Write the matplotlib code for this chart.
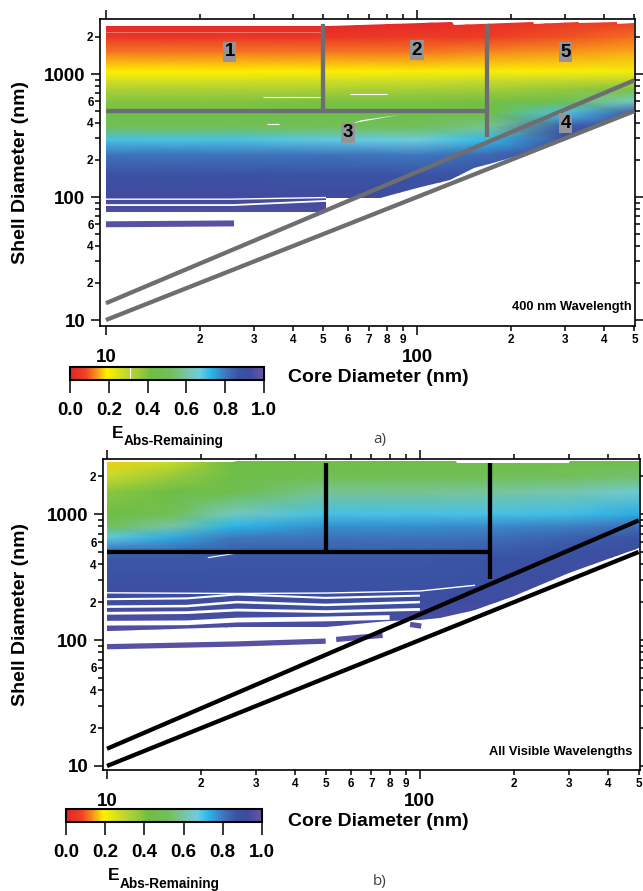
import numpy as np
import matplotlib
matplotlib.use("Agg")
import matplotlib.pyplot as plt
from matplotlib.colors import LinearSegmentedColormap, Normalize
from matplotlib.patches import Polygon
from matplotlib.cm import ScalarMappable

plt.rcParams['font.family'] = ['Liberation Sans', 'DejaVu Sans']
plt.rcParams['font.weight'] = 'bold'

# colour scale (E_Abs-Remaining, 0..1)
cmap_pos = [0.0, 0.08, 0.13, 0.19, 0.27, 0.35, 0.42, 0.52, 0.60, 0.67, 0.73, 0.80, 0.87, 0.93, 1.0]
cmap_hex = ['#E52228', '#EE4424', '#F68B1F', '#FFF200', '#CDDC29', '#A2CC3A', '#6DBE45', '#72BF5A',
            '#78C4A6', '#6CCDE1', '#29B5E8', '#3F78BE', '#3A53A4', '#3F4B9F', '#6A55A4']
cbar_ticks = [0.0, 0.2, 0.4, 0.6, 0.8, 1.0]
cbar_labels = ['0.0', '0.2', '0.4', '0.6', '0.8', '1.0']

# axis ticks
x_major = [10, 100]
x_major_labels = ['10', '100']
x_minor = [20, 30, 40, 50, 60, 70, 80, 90, 200, 300, 400, 500]
x_minor_labels = ['2', '3', '4', '5', '6', '7', '8', '9', '2', '3', '4', '5']
y_major = [10, 100, 1000]
y_major_labels = ['10', '100', '1000']
y_minor = [20, 30, 40, 50, 60, 70, 80, 90, 200, 300, 400, 500, 600, 700, 800, 900, 2000]
y_minor_labels = ['2', '', '4', '', '6', '', '', '', '2', '', '4', '', '6', '', '', '', '2']

# ---- panel a: 400 nm wavelength ----
core_a = [10, 25, 50, 100, 170, 300, 500]
shell_a = [50, 100, 150, 220, 290, 370, 480, 600, 750, 900, 1050, 1500, 2000, 2800]
E_a = [
    [0.98, 0.98, 0.98, 0.98, 1.00, 1.00, 1.00],
    [0.93, 0.93, 0.93, 0.92, 0.95, 1.00, 1.00],
    [0.88, 0.88, 0.87, 0.87, 0.88, 0.98, 1.00],
    [0.81, 0.81, 0.81, 0.80, 0.83, 0.94, 1.00],
    [0.70, 0.70, 0.68, 0.67, 0.72, 0.92, 0.98],
    [0.52, 0.52, 0.52, 0.52, 0.58, 0.86, 0.95],
    [0.44, 0.44, 0.44, 0.44, 0.45, 0.70, 0.86],
    [0.39, 0.39, 0.40, 0.40, 0.41, 0.48, 0.64],
    [0.33, 0.33, 0.33, 0.34, 0.35, 0.37, 0.40],
    [0.25, 0.25, 0.26, 0.26, 0.27, 0.28, 0.29],
    [0.19, 0.19, 0.19, 0.20, 0.20, 0.20, 0.21],
    [0.12, 0.12, 0.12, 0.12, 0.13, 0.14, 0.15],
    [0.05, 0.05, 0.05, 0.06, 0.07, 0.09, 0.11],
    [0.00, 0.00, 0.00, 0.01, 0.02, 0.04, 0.05],
]
# outline of the computed region
region_a_core = [10, 52, 130, 131, 236, 237, 330, 331, 440, 441, 500,
                 500, 428, 428, 343, 343, 281, 281, 225, 225, 176, 176, 152, 152, 128, 128, 100, 100, 76, 76, 51, 51, 10]
region_a_shell = [2450, 2440, 2640, 2480, 2640, 2540, 2640, 2580, 2640, 2560, 2600,
                  505, 435, 435, 348, 348, 285, 285, 228, 228, 190, 190, 172, 172, 137, 137, 118, 118, 98, 98, 98, 76, 76]
# white gaps in the map
gaps_a = [
    ([10, 25, 51], [96, 96, 99], 1.0, 1.0),
    ([10, 25.6, 51], [86, 86, 93], 1.3, 1.0),
    ([32, 49], [655, 655], 0.8, 1.0),
    ([61, 80], [684, 684], 0.8, 1.0),
    ([33, 36], [390, 390], 0.8, 1.0),
    ([10, 50], [2210, 2210], 0.5, 0.45),
]
wedge_a_core = [62, 66, 88]
wedge_a_shell = [398, 420, 466]
strips_a = [([10, 25.8], [60, 61], 4.3)]
labels_a = [('1', 25, 1517), ('2', 100, 1567), ('5', 300, 1500), ('3', 60, 333), ('4', 300, 398)]

# ---- panel b: all visible wavelengths ----
core_b = [10, 16, 25, 50, 100, 170, 300, 500]
shell_b = [80, 120, 200, 300, 450, 520, 650, 800, 1000, 1500, 2000, 2800]
E_b = [
    [0.98, 0.98, 0.97, 0.97, 0.97, 1.00, 1.00, 1.00],
    [0.96, 0.96, 0.95, 0.95, 0.95, 0.97, 1.00, 1.00],
    [0.92, 0.92, 0.91, 0.91, 0.91, 0.93, 0.96, 1.00],
    [0.88, 0.88, 0.87, 0.87, 0.87, 0.88, 0.92, 0.97],
    [0.86, 0.86, 0.86, 0.86, 0.86, 0.87, 0.89, 0.93],
    [0.80, 0.82, 0.84, 0.84, 0.84, 0.85, 0.87, 0.90],
    [0.68, 0.74, 0.80, 0.81, 0.81, 0.82, 0.84, 0.87],
    [0.52, 0.60, 0.73, 0.77, 0.77, 0.78, 0.79, 0.82],
    [0.42, 0.50, 0.63, 0.70, 0.70, 0.70, 0.71, 0.74],
    [0.38, 0.42, 0.46, 0.58, 0.58, 0.59, 0.61, 0.65],
    [0.28, 0.36, 0.44, 0.48, 0.49, 0.50, 0.52, 0.54],
    [0.17, 0.26, 0.42, 0.44, 0.44, 0.44, 0.44, 0.43],
]
region_b_core = [10, 25, 26, 130, 131, 300, 301, 500,
                 500, 400, 300, 200, 150, 116, 100, 79, 50, 26, 10]
region_b_shell = [2600, 2600, 2650, 2650, 2520, 2520, 2660, 2660,
                  540, 440, 340, 225, 172, 150, 145, 141, 128, 127, 118]
gaps_b = [
    ([10, 26, 50, 100, 150], [237, 234, 236, 245, 272], 1.0, 1.0),
    ([10, 18, 26, 50, 100], [211, 214, 230, 216, 225], 1.5, 1.0),
    ([10, 18, 26, 50, 100], [184, 186, 200, 190, 200], 1.8, 1.0),
    ([10, 18, 26, 50, 100], [163, 165, 173, 168, 175], 2.0, 1.0),
    ([10, 18, 26, 50, 80], [136, 137, 144, 147, 151], 3.4, 1.0),
    ([21, 26], [450, 490], 0.8, 1.0),
]
strips_b = [
    ([10, 26, 50], [88.5, 93, 98], 3.8),
    ([54, 76], [101, 109], 3.8),
    ([93, 101], [133, 129], 3.8),
]

# region dividers (same for both panels)
div_h_core, div_h_shell = [10, 168], [500, 500]
div_v1_core, div_v1_shell = [50, 50], [500, 2545]
div_v2_core, div_v2_shell = [168, 168], [305, 2545]
diag_low_core, diag_low_shell = [10, 500], [10, 500]
diag_up_core, diag_up_shell = [10, 500], [13.7, 890]

cmap = LinearSegmentedColormap.from_list('eabs', list(zip(cmap_pos, cmap_hex)), N=256)
norm = Normalize(0, 1)

W, H = 643, 891
fig = plt.figure(figsize=(W / 100, H / 100), dpi=100)


def px_box(left, top, right, bottom):
    return [left / W, 1 - bottom / H, (right - left) / W, (bottom - top) / H]


def draw_panel(ax, core, shell, E, reg_c, reg_s, gaps, strips, line_color):
    C, S = np.meshgrid(core, shell)
    mesh = ax.pcolormesh(C, S, np.array(E), shading='gouraud', cmap=cmap, norm=norm, zorder=1)
    clip = Polygon(np.column_stack([reg_c, reg_s]), closed=True, transform=ax.transData,
                   facecolor='none', edgecolor='none')
    ax.add_patch(clip)
    mesh.set_clip_path(clip)
    for xs, ys, lw, alpha in gaps:
        ax.plot(xs, ys, color='white', lw=lw, alpha=alpha, zorder=2, solid_capstyle='butt')
    for xs, ys, lw in strips:
        ax.plot(xs, ys, color=cmap(0.97), lw=lw, zorder=2, solid_capstyle='butt')
    for xs, ys in [(div_h_core, div_h_shell), (div_v1_core, div_v1_shell), (div_v2_core, div_v2_shell),
                   (diag_low_core, diag_low_shell), (diag_up_core, diag_up_shell)]:
        ax.plot(xs, ys, color=line_color, lw=3.1, zorder=3, solid_capstyle='butt')


def style_axes(ax, xlim, ylim):
    ax.set_xscale('log')
    ax.set_yscale('log')
    ax.set_xticks(x_major)
    ax.set_xticklabels(x_major_labels)
    ax.set_xticks(x_minor, minor=True)
    ax.set_xticklabels(x_minor_labels, minor=True)
    ax.set_yticks(y_major)
    ax.set_yticklabels(y_major_labels)
    ax.set_yticks(y_minor, minor=True)
    ax.set_yticklabels(y_minor_labels, minor=True)
    ax.set_xlim(*xlim)
    ax.set_ylim(*ylim)
    ax.tick_params(which='both', direction='out', top=True, right=True, width=1.1, color='black')
    ax.tick_params(which='major', length=6.5)
    ax.tick_params(which='minor', length=3.6)
    ax.tick_params(axis='x', which='major', pad=10, labelsize=13.5)
    ax.tick_params(axis='x', which='minor', pad=2.5, labelsize=8.5)
    ax.tick_params(axis='y', which='major', pad=4, labelsize=13.5)
    ax.tick_params(axis='y', which='minor', pad=1, labelsize=8.5)
    for sp in ax.spines.values():
        sp.set_linewidth(1.2)


def draw_cbar(cax):
    sm = ScalarMappable(norm=norm, cmap=cmap)
    cb = fig.colorbar(sm, cax=cax, orientation='horizontal', ticks=cbar_ticks)
    cb.minorticks_off()
    cb.outline.set_linewidth(1.5)
    cax.set_xticklabels(cbar_labels)
    cax.tick_params(length=9, width=1.1, pad=6.5, labelsize=13.5, direction='out')
    return cb


# panel a
ax_a = fig.add_axes(px_box(100, 19, 635, 326))
draw_panel(ax_a, core_a, shell_a, E_a, region_a_core, region_a_shell, gaps_a, strips_a, '#6D6E71')
ax_a.fill(wedge_a_core, wedge_a_shell, color='white', lw=0, zorder=2)
for txt, cx, sy in labels_a:
    ax_a.text(cx, sy, txt, ha='center', va='center', fontsize=13.5, zorder=4,
              bbox=dict(boxstyle='square,pad=0.08', fc='#939598', ec='none'))
style_axes(ax_a, (9.57, 502), (8.94, 2800))

# panel b
ax_b = fig.add_axes(px_box(103, 459, 640, 770))
draw_panel(ax_b, core_b, shell_b, E_b, region_b_core, region_b_shell, gaps_b, strips_b, 'black')
style_axes(ax_b, (9.71, 505), (9.29, 2736))

cax_a = fig.add_axes(px_box(70, 367, 264, 380))
cb_a = draw_cbar(cax_a)
cax_a.axvline(0.31, color='white', lw=0.8)
cax_b = fig.add_axes(px_box(66, 809, 262, 822))
draw_cbar(cax_b)

# titles and annotations
for y_core, y_shell, y_e, y_sub, y_tag, tag, x_e, note, y_note in [
        (377, 173, 433, 441, 440, 'a)', 112, '400 nm Wavelength', 307),
        (821, 614, 875, 884, 882, 'b)', 108, 'All Visible Wavelengths', 752)]:
    fig.text(378 / W, 1 - y_core / H, 'Core Diameter (nm)', ha='center', va='center', fontsize=14)
    fig.text(21 / W, 1 - y_shell / H, 'Shell Diameter (nm)', ha='center', va='center',
             rotation=90, fontsize=14)
    fig.text(x_e / W, 1 - y_e / H, 'E', ha='left', va='center', fontsize=12.5)
    fig.text((x_e + 12) / W, 1 - y_sub / H, 'Abs-Remaining', ha='left', va='center', fontsize=9.8)
    fig.text(380 / W, 1 - y_tag / H, tag, ha='center', va='center', fontsize=11,
             family=['Open Sans', 'DejaVu Sans'], fontweight='normal', color='#414042')
    fig.text(632 / W, 1 - y_note / H, note, ha='right', va='center', fontsize=9.3)

fig.savefig('out.png', dpi=100)
